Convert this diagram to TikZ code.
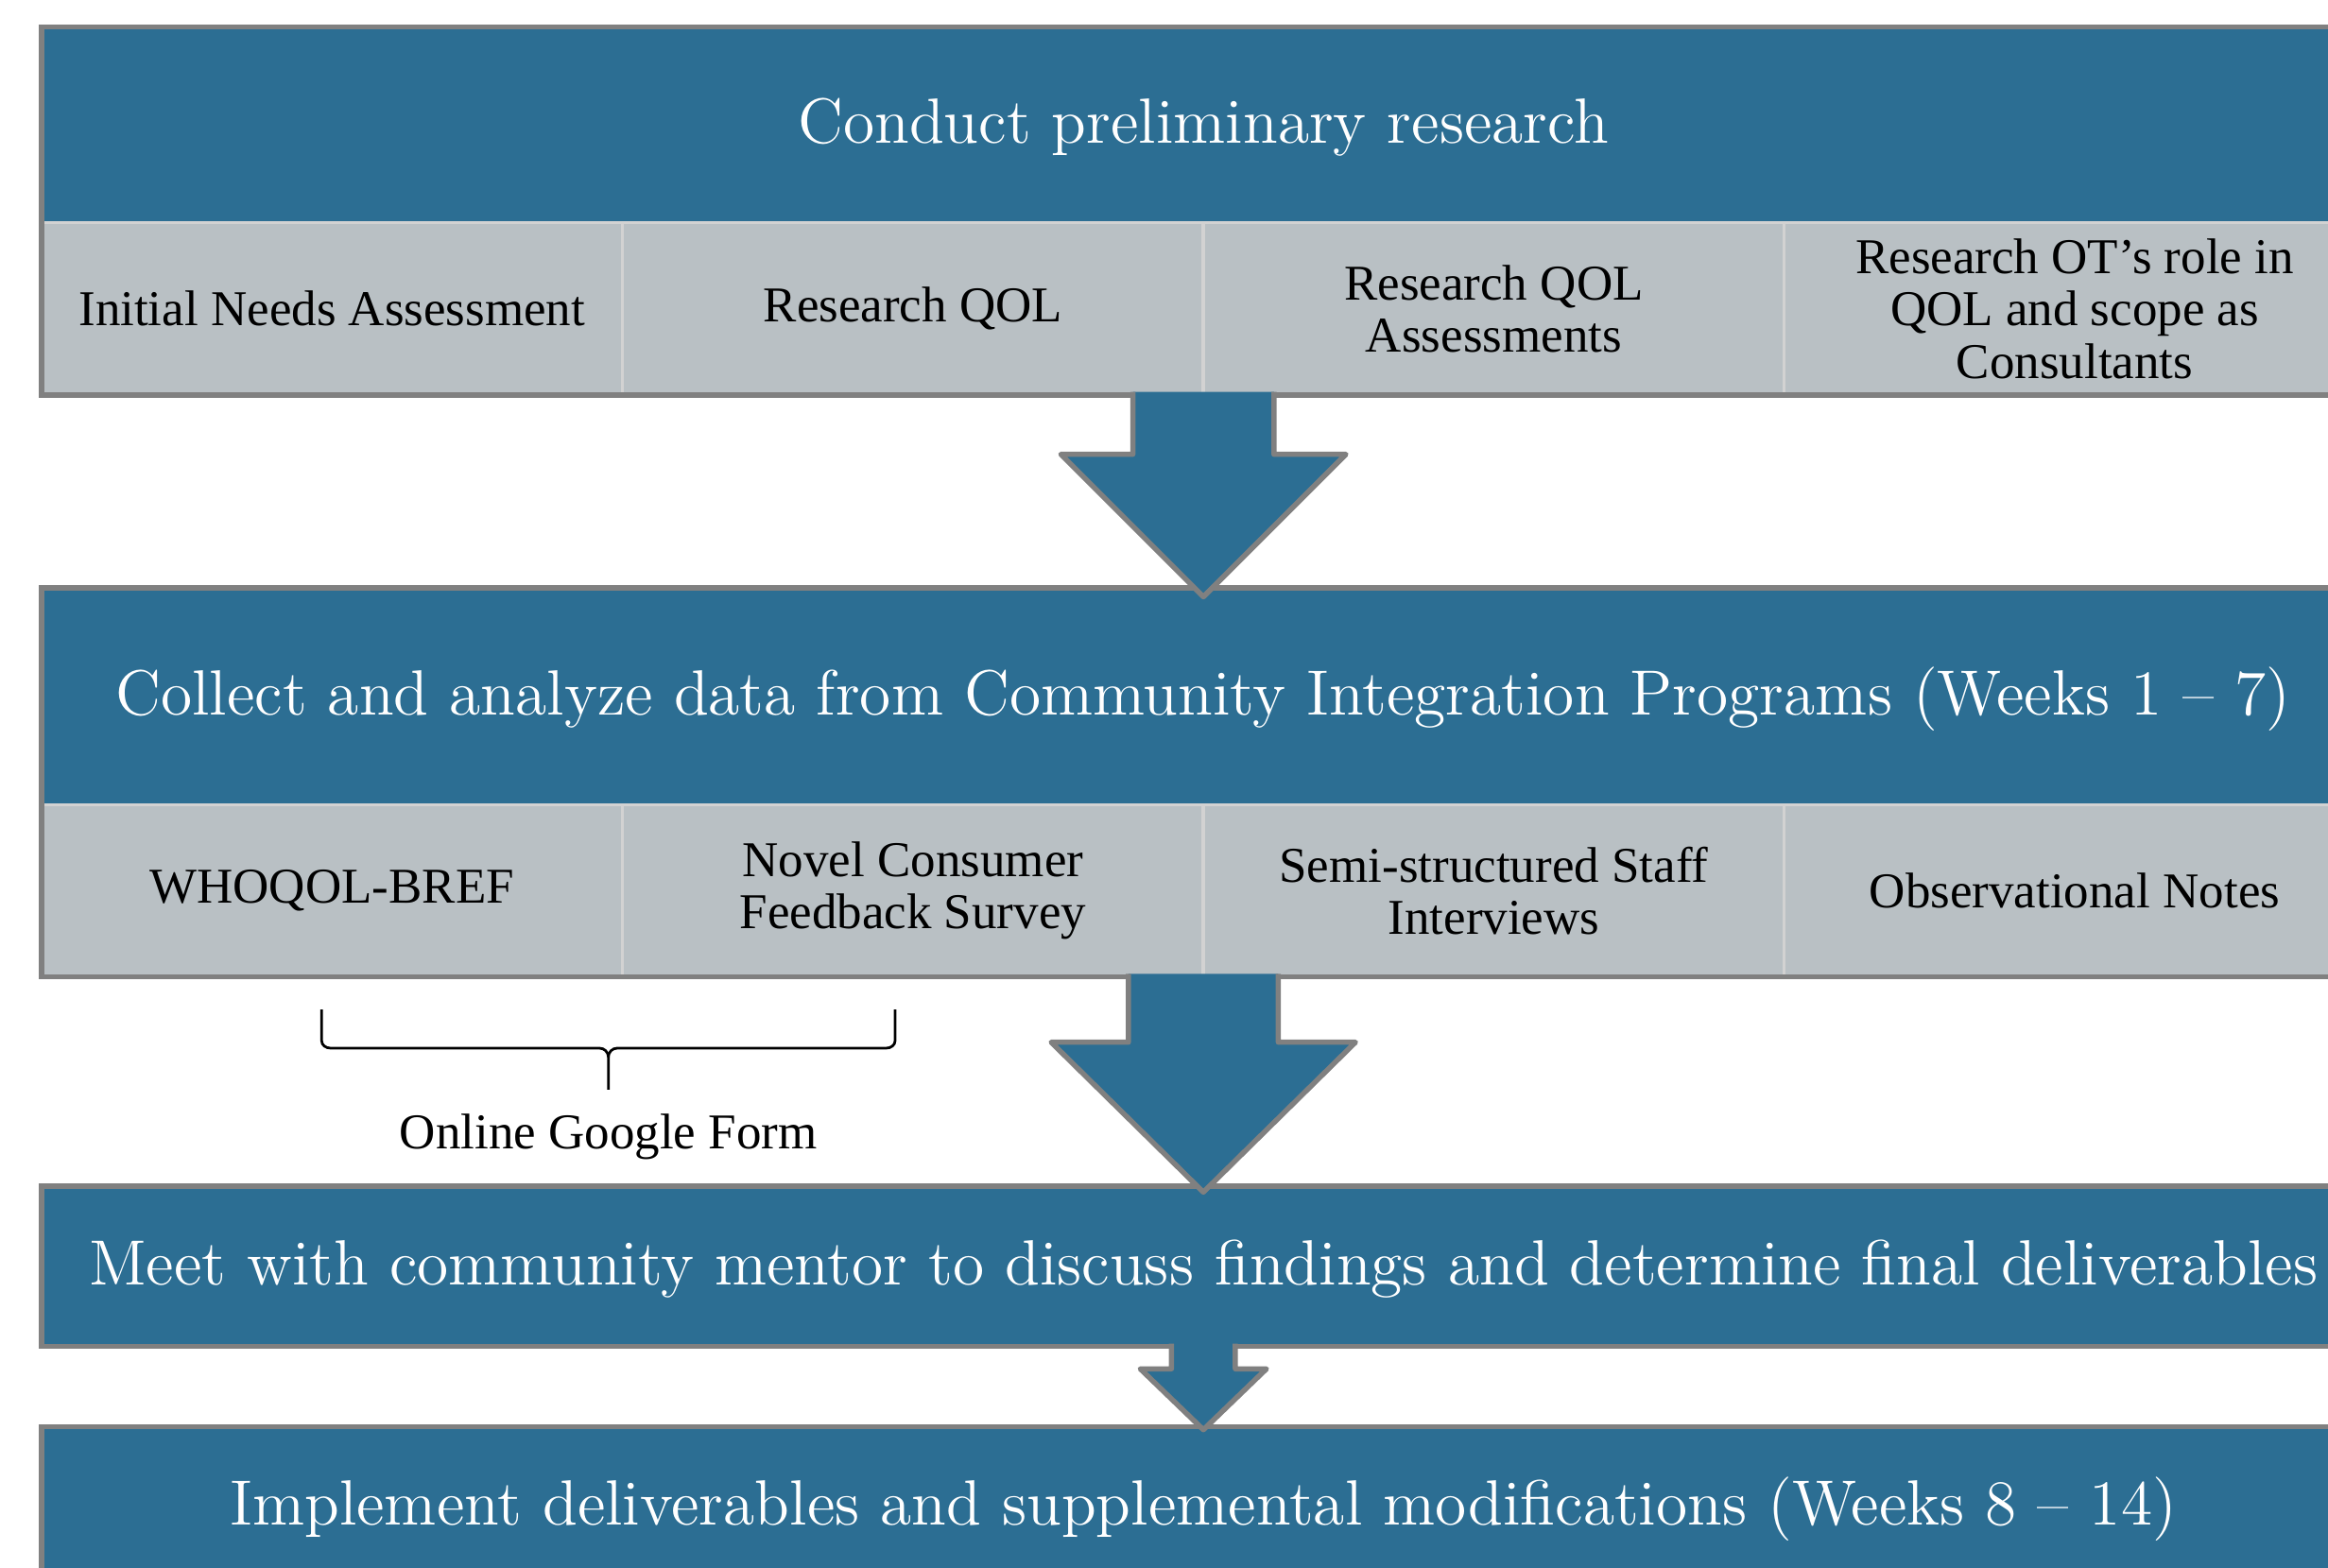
\documentclass[tikz,border=0pt]{standalone}
\usepackage{fontspec}
\newfontfamily\cellfont{Liberation Serif}
\usetikzlibrary{positioning,calc}
\definecolor{stepblue}{HTML}{2C6E93}
\definecolor{cellgray}{HTML}{B9C0C4}
\definecolor{cellline}{HTML}{D2D2D2}
\definecolor{frameline}{HTML}{808080}

\begin{document}
\begin{tikzpicture}[
      stage/.style={fill=stepblue,text=white,minimum width=15.65cm,
                    inner sep=0pt,outer sep=0pt,
                    text height=0.78em,text depth=0.07em,
                    font=\fontsize{12.25}{14}\selectfont},
      cell/.style={fill=cellgray,draw=cellline,line width=0.6pt,
                   minimum width=3.9125cm,minimum height=1.16cm,
                   inner sep=0pt,outer sep=0pt,align=center,
                   font=\cellfont\fontsize{9.6}{10}\selectfont},
      frame/.style={draw=frameline,line width=1pt},
      blockarr/.style={fill=stepblue,draw=frameline,line width=1pt,
                       line join=round},
      brace/.style={draw=black,line width=0.5pt}]
    \clip (0,0) rectangle (15.68,10.56);

    % first stage and its four tasks
    \node[stage,minimum height=1.32cm] (prelim) at (8.105,9.72)
      {Conduct preliminary research};
    \node[cell,anchor=north west] (needs) at (prelim.south west)
      {Initial Needs Assessment};
    \node[cell,right=0pt of needs] (qol) {Research QOL};
    \node[cell,right=0pt of qol] (assess) {Research QOL\\Assessments};
    \node[cell,right=0pt of assess] (otrole)
      {Research OT’s role in\\QOL and scope as\\Consultants};
    \draw[frame] (prelim.north west) rectangle (otrole.south east);

    % second stage and the data sources
    \node[stage,minimum height=1.46cm,below=1.30cm of qol.south east] (collect)
      {Collect and analyze data from Community Integration Programs (Weeks 1 -- 7)};
    \node[cell,anchor=north west] (whoqol) at (collect.south west) {WHOQOL-BREF};
    \node[cell,right=0pt of whoqol] (survey) {Novel Consumer\\Feedback Survey};
    \node[cell,right=0pt of survey] (interviews)
      {Semi-structured Staff\\Interviews};
    \node[cell,right=0pt of interviews] (notes) {Observational Notes};
    \draw[frame] (collect.north west) rectangle (notes.south east);

    % last two stages
    \node[stage,frame,minimum height=1.08cm,below=1.41cm of survey.south east]
      (mentor) {Meet with community mentor to discuss findings and determine final deliverables};
    \node[stage,frame,minimum height=1.08cm,below=0.54cm of mentor] (implement)
      {Implement deliverables and supplemental modifications (Weeks 8 -- 14)};

    % block arrows between stages
    \draw[blockarr] ($(qol.south east)+(-0.475,0.02)$) -- ++(0,-0.42)
      -- ++(-0.485,0) -- ($(collect.north)+(0,-0.06)$)
      -- ($(qol.south east)+(0.96,-0.40)$) -- ++(-0.485,0)
      -- ($(qol.south east)+(0.475,0.02)$);
    \draw[blockarr] ($(survey.south east)+(-0.505,0.02)$) -- ++(0,-0.46)
      -- ++(-0.52,0) -- ($(mentor.north)+(0,-0.04)$)
      -- ($(survey.south east)+(1.025,-0.44)$) -- ++(-0.52,0)
      -- ($(survey.south east)+(0.505,0.02)$);
    \draw[blockarr] ($(mentor.south)+(-0.215,0.02)$) -- ++(0,-0.17)
      -- ++(-0.21,0) -- ($(implement.north)+(0,-0.02)$)
      -- ($(mentor.south)+(0.425,-0.15)$) -- ++(-0.21,0)
      -- ($(mentor.south)+(0.215,0.02)$);

    % brace under the two survey tools
    \coordinate (braceL) at ($(whoqol.south)+(-0.07,-0.22)$);
    \coordinate (braceR) at ($(survey.south)+(-0.12,-0.22)$);
    \coordinate (braceTip) at ($(braceL)!0.5!(braceR)+(0,-0.54)$);
    \draw[brace] (braceL) -- ++(0,-0.21) to[out=-90,in=180] ++(0.06,-0.05)
      -- ($(braceTip)+(-0.06,0.28)$) to[out=0,in=90] ($(braceTip)+(0,0.22)$)
      -- (braceTip);
    \draw[brace] (braceR) -- ++(0,-0.21) to[out=-90,in=0] ++(-0.06,-0.05)
      -- ($(braceTip)+(0.06,0.28)$) to[out=180,in=90] ($(braceTip)+(0,0.22)$);
    \node[below=0.04cm of braceTip,font=\cellfont\fontsize{9.6}{10}\selectfont]
      (gform) {Online Google Form};
  \end{tikzpicture}
\end{document}
